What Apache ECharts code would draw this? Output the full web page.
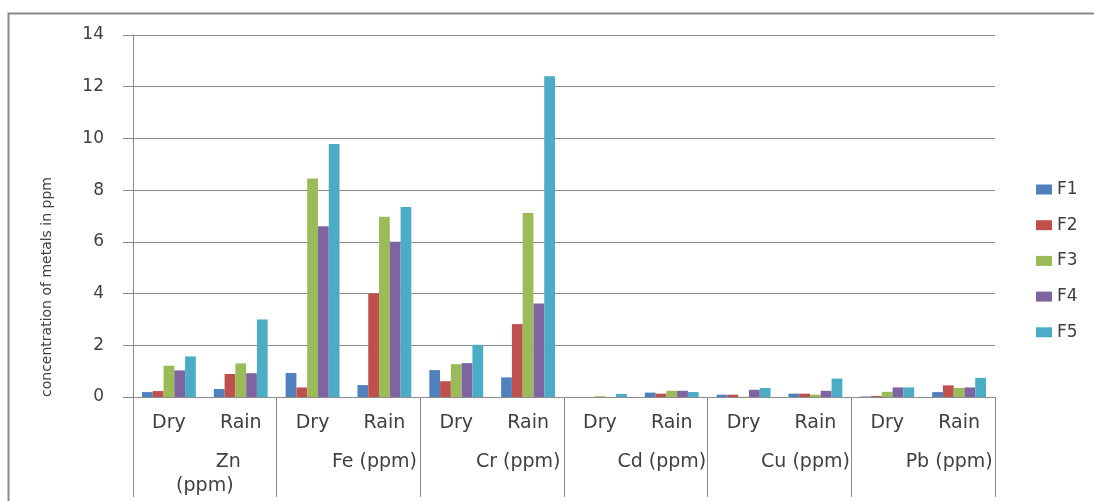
<!DOCTYPE html>
<html>
<head>
<meta charset="utf-8">
<script src="https://cdn.jsdelivr.net/npm/echarts@6/dist/echarts.min.js"></script>
<style>
  html, body { margin: 0; padding: 0; background: #fff; }
  #chart { width: 1094px; height: 501px; }
</style>
</head>
<body>
<div id="chart"></div>
<script>
// Seasons within each metal group, and the metal groups themselves
const seasons = ['Dry', 'Rain', 'Dry', 'Rain', 'Dry', 'Rain', 'Dry', 'Rain', 'Dry', 'Rain', 'Dry', 'Rain'];
const metals = ['Zn (ppm)', 'Fe (ppm)', 'Cr (ppm)', 'Cd (ppm)', 'Cu (ppm)', 'Pb (ppm)'];

// Fraction concentrations (ppm), one value per season/metal pair
const F1 = [0.19, 0.31, 0.93, 0.46, 1.04, 0.76, 0.00, 0.17, 0.09, 0.13, 0.02, 0.19];
const F2 = [0.23, 0.89, 0.37, 4.00, 0.61, 2.82, 0.00, 0.13, 0.09, 0.13, 0.04, 0.45];
const F3 = [1.21, 1.30, 8.45, 6.97, 1.27, 7.12, 0.03, 0.24, 0.01, 0.09, 0.20, 0.35];
const F4 = [1.03, 0.92, 6.60, 6.00, 1.31, 3.62, 0.00, 0.24, 0.28, 0.24, 0.37, 0.37];
const F5 = [1.57, 3.00, 9.78, 7.35, 2.02, 12.40, 0.12, 0.19, 0.35, 0.71, 0.37, 0.74];

const seriesNames = ['F1', 'F2', 'F3', 'F4', 'F5'];
const seriesData = [F1, F2, F3, F4, F5];
const colors = ['#4F81BD', '#C0504D', '#9BBB59', '#8064A2', '#4BACC6'];

const yTicks = { min: 0, max: 14, interval: 2 };
const yTitle = 'concentration of metals in ppm';

const FONT = 'DejaVu Sans';
const TEXT = '#404040';
const LINE = '#8c8c8c';

const chart = echarts.init(document.getElementById('chart'), null, { renderer: 'canvas' });

chart.setOption({
  animation: false,
  backgroundColor: '#ffffff',
  color: colors,
  textStyle: { fontFamily: FONT },
  grid: { left: 133, right: 99, top: 35, bottom: 104, containLabel: false },
  legend: {
    orient: 'vertical',
    left: 1036,
    top: 181,
    padding: 0,
    itemWidth: 16,
    itemHeight: 10,
    itemGap: 18.7,
    icon: 'rect',
    data: seriesNames,
    textStyle: { fontFamily: FONT, fontSize: 17, color: TEXT }
  },
  xAxis: [
    {
      type: 'category',
      data: seasons,
      position: 'bottom',
      axisLine: { show: true, lineStyle: { color: LINE, width: 1 } },
      axisTick: { show: false },
      axisLabel: { interval: 0, margin: 17, fontFamily: FONT, fontSize: 19, color: TEXT }
    },
    {
      // metal groups: long ticks form the separators between groups
      type: 'category',
      data: metals,
      position: 'bottom',
      axisLine: { show: false },
      axisTick: { show: true, length: 100, lineStyle: { color: LINE, width: 1 } },
      axisLabel: {
        interval: 0,
        margin: 53,
        fontFamily: FONT,
        fontSize: 19,
        color: TEXT,
        lineHeight: 24,
        formatter: function (v) {
          if (v === 'Zn (ppm)') return '{z|Zn}\n{p|(ppm)}';
          return '{g|' + v + '}';
        },
        rich: {
          z: { fontFamily: FONT, fontSize: 19, color: TEXT, padding: [0, 0, 0, 47], lineHeight: 24 },
          p: { fontFamily: FONT, fontSize: 19, color: TEXT, lineHeight: 24 },
          g: { fontFamily: FONT, fontSize: 19, color: TEXT, padding: [0, 0, 0, 52], lineHeight: 24 }
        }
      }
    }
  ],
  yAxis: {
    type: 'value',
    min: yTicks.min,
    max: yTicks.max,
    interval: yTicks.interval,
    axisLine: { show: true, lineStyle: { color: LINE, width: 1 } },
    axisTick: { show: true, length: 10, lineStyle: { color: LINE } },
    axisLabel: { margin: 29, fontFamily: FONT, fontSize: 17, color: TEXT },
    splitLine: { show: true, lineStyle: { color: LINE, width: 1 } }
  },
  graphic: [
    {
      type: 'rect',
      left: 6, top: 11,
      shape: { width: 1200, height: 600 },
      style: { fill: 'none', stroke: '#8a8a8a', lineWidth: 2 },
      silent: true, z: -1
    },
    {
      type: 'text',
      x: 47, y: 287,
      rotation: Math.PI / 2,
      style: {
        text: yTitle,
        fontFamily: FONT,
        fontSize: 14,
        fill: TEXT,
        textAlign: 'center',
        textVerticalAlign: 'middle'
      },
      silent: true
    }
  ],
  series: seriesNames.map(function (name, i) {
    return {
      name: name,
      type: 'bar',
      xAxisIndex: 0,
      data: seriesData[i],
      barWidth: '15%',
      barGap: '0%',
      itemStyle: { color: colors[i] }
    };
  })
});
</script>
</body>
</html>
